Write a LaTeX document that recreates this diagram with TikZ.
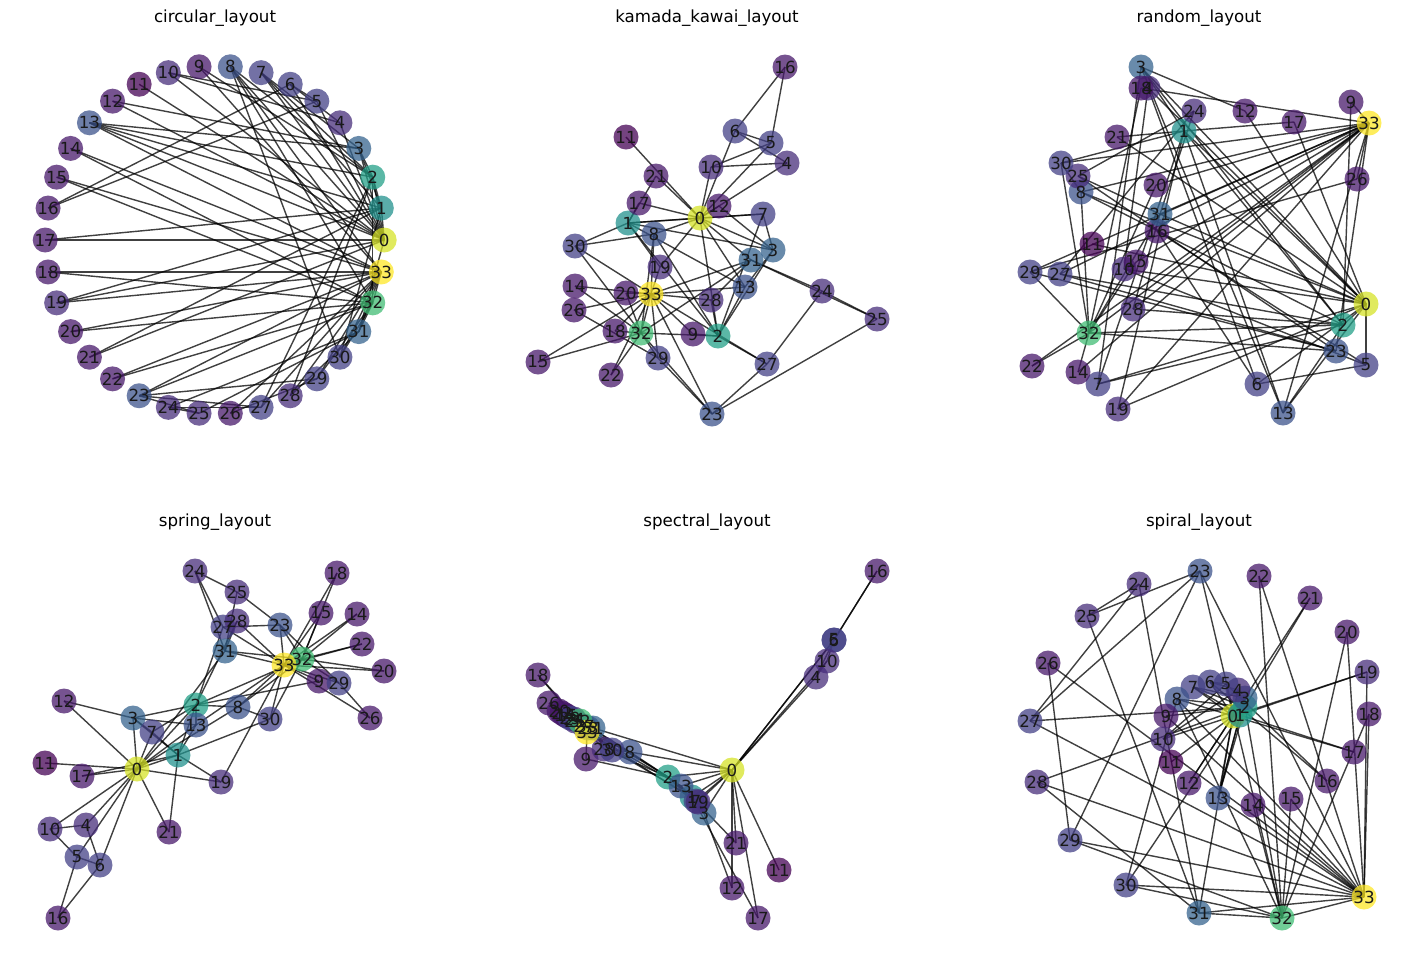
\documentclass[tikz,border=0pt]{standalone}
\usepackage{fontspec}
\setmainfont{DejaVu Sans}

\pgfdeclarelayer{edges}
\pgfdeclarelayer{disks}
\pgfsetlayers{edges,disks,main}

% viridis, by degree
\definecolor{deg1}{HTML}{440154}
\definecolor{deg2}{HTML}{461769}
\definecolor{deg3}{HTML}{462C7A}
\definecolor{deg4}{HTML}{424085}
\definecolor{deg5}{HTML}{3B528B}
\definecolor{deg6}{HTML}{34628D}
\definecolor{deg9}{HTML}{21918C}
\definecolor{deg10}{HTML}{229F87}
\definecolor{deg12}{HTML}{40BC73}
\definecolor{deg16}{HTML}{D5E226}
\definecolor{deg17}{HTML}{FDE725}

\tikzset{
  vlabel/.style={inner sep=0pt, text=black!90, font=\fontsize{8.33}{10}\selectfont},
  disk/.style={fill=#1, fill opacity=0.74},
  link/.style={draw=black, draw opacity=0.75, line width=0.7pt},
  ttl/.style={font=\fontsize{8.33}{10}\selectfont}
}

\newcommand{\karateedges}{0/1,0/2,0/3,0/4,0/5,0/6,0/7,0/8,0/10,0/11,0/12,0/13,0/17,0/19,0/21,0/31,
  1/2,1/3,1/7,1/13,1/17,1/19,1/21,1/30,2/3,2/7,2/8,2/9,2/13,2/27,2/28,2/32,3/7,3/12,3/13,
  4/6,4/10,5/6,5/10,5/16,6/16,8/30,8/32,8/33,9/33,13/33,14/32,14/33,15/32,15/33,18/32,18/33,
  19/33,20/32,20/33,22/32,22/33,23/25,23/27,23/29,23/32,23/33,24/25,24/27,24/31,25/31,
  26/29,26/33,27/33,28/31,28/33,29/32,29/33,30/32,30/33,31/32,31/33,32/33}
\newcommand{\karatedeg}{{16,9,10,6,3,4,4,4,5,2,3,1,2,5,2,2,2,2,2,3,2,2,2,5,3,3,2,4,3,4,4,6,12,17}}

% disks and edges under the labels of one layout
\newcommand{\karatedraw}[1]{%
  \begin{pgfonlayer}{disks}
    \foreach \i in {0,...,33}{%
      \pgfmathtruncatemacro{\dg}{\karatedeg[\i]}
      \fill[disk=deg\dg] (#1\i.center) circle (6.25pt);}
  \end{pgfonlayer}
  \begin{pgfonlayer}{edges}
    \foreach \a/\b in \karateedges {\draw[link] (#1\a.center) -- (#1\b.center);}
  \end{pgfonlayer}}

\begin{document}
\begin{tikzpicture}[x=0.5pt, y=-0.5pt]
    \useasboundingbox (0,0) rectangle (1415,965);

    % circular
    \node[ttl] (tc) at (215,18) {circular\_layout};
    \foreach \i in {0,...,33}
        \node[vlabel] (c\i) at ({214.7+169.5*cos(\i*360/34)},{240-174*sin(\i*360/34)}) {\i};
    \karatedraw{c}

    % kamada kawai
    \node[ttl] (tk) at (707,18) {kamada\_kawai\_layout};
    \foreach \i/\x/\y in {0/700/218, 1/628/223, 2/718/336, 3/773/250, 4/787/163, 5/771/143,
        6/735/131, 7/763/214, 8/654/234, 9/693/334, 10/711/167, 11/626/137, 12/719/206,
        13/745/287, 14/575/286, 15/538/362, 16/785/67, 17/639/203, 18/615/331, 19/660/267,
        20/626/293, 21/656/176, 22/611/375, 23/712/414, 24/822/291, 25/877/319, 26/574/310,
        27/767/364, 28/711/300, 29/658/358, 30/575/246, 31/751/260, 32/641/333, 33/651/294}
        \node[vlabel] (k\i) at (\x,\y) {\i};
    \karatedraw{k}

    % random
    \node[ttl] (tr) at (1199,18) {random\_layout};
    \foreach \i/\x/\y in {0/1366/304, 1/1184/131, 2/1343/325, 3/1141/67, 4/1148/88, 5/1366/365,
        6/1257/384, 7/1098/384, 8/1081/192, 9/1351/102, 10/1124/269, 11/1092/244, 12/1245/111,
        13/1283/413, 14/1078/372, 15/1136/262, 16/1157/231, 17/1294/122, 18/1141/88, 19/1118/409,
        20/1156/185, 21/1117/137, 22/1032/366, 23/1336/351, 24/1194/111, 25/1078/176,
        26/1357/179, 27/1060/274, 28/1133/309, 29/1030/272, 30/1061/163, 31/1160/214,
        32/1089/333, 33/1369/123}
        \node[vlabel] (r\i) at (\x,\y) {\i};
    \karatedraw{r}

    % spring
    \node[ttl] (ts) at (215,522) {spring\_layout};
    \foreach \i/\x/\y in {0/137/769, 1/178/755, 2/196/705, 3/133/718, 4/86/825, 5/77/857,
        6/100/865, 7/152/732, 8/238/707, 9/319/681, 10/50/829, 11/45/763, 12/64/701, 13/196/725,
        14/357/614, 15/321/613, 16/58/918, 17/82/776, 18/337/573, 19/221/782, 20/384/671,
        21/169/832, 22/362/644, 23/280/625, 24/195/571, 25/237/592, 26/370/718, 27/223/627,
        28/237/621, 29/339/683, 30/270/719, 31/225/651, 32/302/659, 33/284/665}
        \node[vlabel] (s\i) at (\x,\y) {\i};
    \karatedraw{s}

    % spectral
    \node[ttl] (tp) at (707,522) {spectral\_layout};
    \foreach \i/\x/\y in {0/732/770, 1/692/797, 2/668/777, 3/704/813, 4/816/677, 5/834/640,
        6/834/640, 7/696/801, 8/630/752, 9/586/759, 10/827/661, 11/779/870, 12/732/888,
        13/681/786, 14/565/715, 15/567/716, 16/877/571, 17/758/918, 18/538/675, 19/698/802,
        20/559/711, 21/736/843, 22/562/713, 23/588/728, 24/574/719, 25/575/721, 26/549/703,
        27/584/726, 28/604/749, 29/570/718, 30/612/750, 31/593/728, 32/580/721, 33/587/732}
        \node[vlabel] (p\i) at (\x,\y) {\i};
    \karatedraw{p}

    % spiral
    \node[ttl] (tz) at (1199,522) {spiral\_layout};
    \foreach \i/\x/\y in {0/1233/716, 1/1240/715, 2/1245/707, 3/1245/698, 4/1238/690,
        5/1226/684, 6/1210/682, 7/1193/687, 8/1177/699, 9/1166/716, 10/1163/739, 11/1171/762,
        12/1189/783, 13/1218/798, 14/1253/805, 15/1291/799, 16/1327/781, 17/1354/752,
        18/1369/714, 19/1367/672, 20/1347/632, 21/1310/598, 22/1259/576, 23/1200/571,
        24/1139/584, 25/1087/616, 26/1048/663, 27/1030/721, 28/1037/782, 29/1070/840,
        30/1126/885, 31/1199/913, 32/1282/918, 33/1364/897}
        \node[vlabel] (z\i) at (\x,\y) {\i};
    \karatedraw{z}
\end{tikzpicture}
\end{document}
